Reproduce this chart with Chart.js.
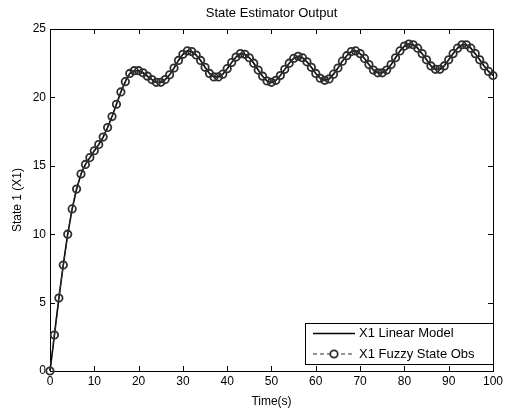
<!doctype html>
<html lang="en">
<head>
    <meta charset="utf-8">
    <title>State Estimator Output</title>
    <script src="https://cdn.jsdelivr.net/npm/chart.js@4.4.1/dist/chart.umd.min.js"></script>
    <style>
        html, body { margin: 0; padding: 0; background: #fff; }
        #chartContainer { width: 506px; height: 409px; }
    </style>
</head>
<body>
<div id="chartContainer"><canvas id="myChart" width="506" height="409"></canvas></div>
<script>
    // x axis : time in seconds
    const timeSec = [
        0, 1, 2, 3, 4, 5, 6, 7, 8, 9,
        10, 11, 12, 13, 14, 15, 16, 17, 18, 19,
        20, 21, 22, 23, 24, 25, 26, 27, 28, 29,
        30, 31, 32, 33, 34, 35, 36, 37, 38, 39,
        40, 41, 42, 43, 44, 45, 46, 47, 48, 49,
        50, 51, 52, 53, 54, 55, 56, 57, 58, 59,
        60, 61, 62, 63, 64, 65, 66, 67, 68, 69,
        70, 71, 72, 73, 74, 75, 76, 77, 78, 79,
        80, 81, 82, 83, 84, 85, 86, 87, 88, 89,
        90, 91, 92, 93, 94, 95, 96, 97, 98, 99,
        100
    ];

    // y axis : state 1 (X1)
    const linearModel = [
        0, 2.63, 5.33, 7.75, 10.0, 11.85, 13.3, 14.4, 15.1, 15.6,
        16.1, 16.55, 17.1, 17.8, 18.6, 19.5, 20.4, 21.15, 21.75, 21.95,
        21.95, 21.8, 21.55, 21.3, 21.1, 21.1, 21.3, 21.65, 22.15, 22.7,
        23.15, 23.4, 23.35, 23.1, 22.7, 22.2, 21.75, 21.5, 21.5, 21.7,
        22.1, 22.55, 22.95, 23.2, 23.15, 22.9, 22.5, 22.0, 21.55, 21.2,
        21.1, 21.25, 21.6, 22.05, 22.5, 22.85, 23.0, 22.9, 22.6, 22.2,
        21.75, 21.4, 21.25, 21.35, 21.7, 22.15, 22.65, 23.05, 23.35, 23.4,
        23.2, 22.85, 22.4, 22.0, 21.8, 21.8, 22.0, 22.4, 22.9, 23.4,
        23.75, 23.9, 23.85, 23.6, 23.2, 22.75, 22.3, 22.05, 22.05, 22.3,
        22.75, 23.2, 23.6, 23.85, 23.85, 23.6, 23.2, 22.75, 22.3, 21.9,
        21.6
    ];

    // the observer sits right on top of the model in the picture
    const fuzzyStateObs = linearModel.slice();

    const xTicks = [0, 10, 20, 30, 40, 50, 60, 70, 80, 90, 100];
    const yTicks = [0, 5, 10, 15, 20, 25];

    const seriesNames = ["X1 Linear Model", "X1 Fuzzy State Obs"];
    const chartTitle = "State Estimator Output";
    const xTitle = "Time(s)";
    const yTitle = "State 1 (X1)";

    const FONT = "'Liberation Sans', Arial, sans-serif";

    const toPoints = (xs, ys) => xs.map((x, i) => ({ x: x, y: ys[i] }));

    // matlab style box, inward ticks, title and legend
    const matlabFrame = {
        id: "matlabFrame",
        beforeDatasetsDraw(chart) {
            const ctx = chart.ctx;
            const a = chart.chartArea;
            const xs = chart.scales.x;
            const ys = chart.scales.y;
            ctx.save();
            ctx.strokeStyle = "#000";
            ctx.lineWidth = 1;
            ctx.strokeRect(Math.round(a.left) + 0.5, Math.round(a.top) + 0.5,
                Math.round(a.right - a.left), Math.round(a.bottom - a.top));
            ctx.beginPath();
            xTicks.forEach(v => {
                const px = Math.round(xs.getPixelForValue(v)) + 0.5;
                ctx.moveTo(px, a.bottom); ctx.lineTo(px, a.bottom - 5);
                ctx.moveTo(px, a.top); ctx.lineTo(px, a.top + 5);
            });
            yTicks.forEach(v => {
                const py = Math.round(ys.getPixelForValue(v)) + 0.5;
                ctx.moveTo(a.left, py); ctx.lineTo(a.left + 5, py);
                ctx.moveTo(a.right, py); ctx.lineTo(a.right - 5, py);
            });
            ctx.stroke();

            ctx.fillStyle = "#000";
            ctx.font = "13px " + FONT;
            ctx.textAlign = "center";
            ctx.textBaseline = "middle";
            ctx.fillText(chartTitle, (a.left + a.right) / 2, 13);
            ctx.restore();
        },
        afterDraw(chart) {
            const ctx = chart.ctx;
            const ds = chart.data.datasets;
            const bx = 305, by = 323, bw = 188, bh = 41;
            ctx.save();
            ctx.fillStyle = "#fff";
            ctx.fillRect(bx, by, bw, bh);
            ctx.strokeStyle = "#000";
            ctx.lineWidth = 1;
            ctx.strokeRect(bx + 0.5, by + 0.5, bw, bh);

            const rows = [333.5, 354];
            ds.forEach((d, i) => {
                const y = rows[i];
                ctx.strokeStyle = d.borderColor;
                ctx.lineWidth = d.borderWidth;
                ctx.setLineDash(d.borderDash || []);
                ctx.beginPath();
                ctx.moveTo(313, y); ctx.lineTo(355, y);
                ctx.stroke();
                ctx.setLineDash([]);
                if (d.pointRadius > 0) {
                    ctx.strokeStyle = d.pointBorderColor;
                    ctx.lineWidth = d.pointBorderWidth;
                    ctx.fillStyle = "#fff";
                    ctx.beginPath();
                    ctx.arc(334, y, d.pointRadius, 0, Math.PI * 2);
                    ctx.fill();
                    ctx.stroke();
                }
                ctx.fillStyle = "#000";
                ctx.font = "13px " + FONT;
                ctx.textAlign = "left";
                ctx.textBaseline = "middle";
                ctx.fillText(d.label, 359, y);
            });
            ctx.restore();
        }
    };

    const ctx = document.getElementById("myChart");
    new Chart(ctx, {
        type: "line",
        data: {
            datasets: [{
                label: seriesNames[0],
                data: toPoints(timeSec, linearModel),
                borderColor: "#000",
                borderWidth: 1.6,
                pointRadius: 0,
                tension: 0,
                clip: false,
                order: 2
            }, {
                label: seriesNames[1],
                data: toPoints(timeSec, fuzzyStateObs),
                borderColor: "#2e2e2e",
                borderWidth: 1.2,
                borderDash: [4, 3],
                pointRadius: 3.7,
                pointBorderWidth: 1.8,
                pointBorderColor: "#2e2e2e",
                pointBackgroundColor: "rgba(0,0,0,0)",
                pointHoverRadius: 3.7,
                tension: 0,
                clip: false,
                order: 1
            }]
        },
        options: {
            responsive: false,
            animation: false,
            devicePixelRatio: 1,
            layout: { padding: { top: 29, right: 11, left: 0, bottom: 0 } },
            plugins: {
                legend: { display: false },
                title: { display: false },
                tooltip: { enabled: false }
            },
            scales: {
                x: {
                    type: "linear",
                    min: 0,
                    max: 100,
                    afterFit: s => { s.height = 38; },
                    afterBuildTicks: s => { s.ticks = xTicks.map(v => ({ value: v })); },
                    grid: { display: false, drawTicks: false },
                    border: { display: false },
                    ticks: { color: "#000", padding: 3, maxRotation: 0, autoSkip: false,
                        font: { family: FONT, size: 12 } },
                    title: { display: true, text: xTitle, color: "#000",
                        padding: { top: 4, bottom: 0 }, font: { family: FONT, size: 12 } }
                },
                y: {
                    min: 0,
                    max: 25,
                    afterFit: s => { s.width = 50; },
                    afterBuildTicks: s => { s.ticks = yTicks.map(v => ({ value: v })); },
                    grid: { display: false, drawTicks: false },
                    border: { display: false },
                    ticks: { color: "#000", padding: 4, font: { family: FONT, size: 12 } },
                    title: { display: true, text: yTitle, color: "#000",
                        padding: { top: 10, bottom: 0 }, font: { family: FONT, size: 12 } }
                }
            }
        },
        plugins: [matlabFrame]
    });
</script>
</body>
</html>
